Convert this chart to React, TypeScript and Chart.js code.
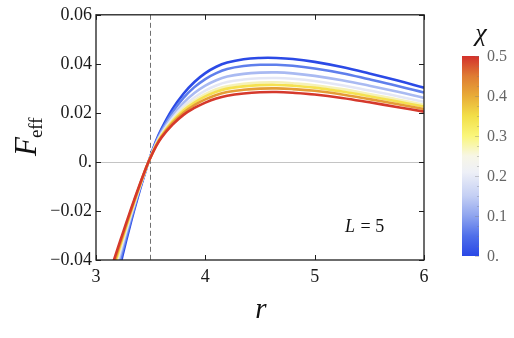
import React, { useEffect, useRef } from "react";
import { Chart, registerables } from "chart.js";
Chart.register(...registerables);

const SERIF = '"Liberation Serif", "Times New Roman", Times, serif';

// radial coordinate samples
const R = [3.1, 3.2, 3.25, 3.3, 3.35, 3.4, 3.45, 3.48, 3.55, 3.6, 3.7, 3.8, 3.9, 4.0, 4.1, 4.2, 4.35, 4.5, 4.65, 4.8, 5.0, 5.25, 5.5, 5.75, 6.0];

// F_eff for each chi value
const F_chi000 = [-0.0667, -0.0462, -0.0368, -0.0279, -0.0195, -0.0116, -0.0042, 0, 0.0086, 0.0136, 0.0216, 0.0278, 0.0326, 0.0362, 0.0388, 0.0405, 0.0419, 0.0424, 0.0424, 0.042, 0.0408, 0.0387, 0.0361, 0.0333, 0.0303];
const F_chi007 = [-0.0631, -0.044, -0.0351, -0.0267, -0.0187, -0.0111, -0.004, 0, 0.0082, 0.0129, 0.0203, 0.0261, 0.0305, 0.0338, 0.0362, 0.0379, 0.0391, 0.0396, 0.0396, 0.0392, 0.0381, 0.0362, 0.0337, 0.0311, 0.0283];
const F_chi014 = [-0.059, -0.0415, -0.0332, -0.0253, -0.0178, -0.0106, -0.0038, 0, 0.0077, 0.0121, 0.0189, 0.0241, 0.0281, 0.0311, 0.0333, 0.0348, 0.0359, 0.0364, 0.0365, 0.0361, 0.0351, 0.0333, 0.0311, 0.0287, 0.0261];
const F_chi021 = [-0.0561, -0.0397, -0.0318, -0.0243, -0.0171, -0.0102, -0.0037, 0, 0.0073, 0.0115, 0.0178, 0.0227, 0.0263, 0.0291, 0.0312, 0.0326, 0.0336, 0.0341, 0.0342, 0.0339, 0.033, 0.0313, 0.0291, 0.0269, 0.0245];
const F_chi029 = [-0.0538, -0.0383, -0.0308, -0.0235, -0.0166, -0.0099, -0.0036, 0, 0.007, 0.011, 0.017, 0.0217, 0.025, 0.0276, 0.0296, 0.0309, 0.0319, 0.0324, 0.0325, 0.0321, 0.0313, 0.0297, 0.0277, 0.0255, 0.0233];
const F_chi036 = [-0.0525, -0.0374, -0.0302, -0.0231, -0.0163, -0.0097, -0.0035, 0, 0.0069, 0.0108, 0.0165, 0.021, 0.0242, 0.0267, 0.0286, 0.0299, 0.0308, 0.0313, 0.0314, 0.0311, 0.0303, 0.0287, 0.0268, 0.0247, 0.0226];
const F_chi043 = [-0.0507, -0.0363, -0.0293, -0.0225, -0.0159, -0.0095, -0.0034, 0, 0.0066, 0.0104, 0.0159, 0.0201, 0.0232, 0.0255, 0.0273, 0.0285, 0.0294, 0.0299, 0.03, 0.0297, 0.029, 0.0275, 0.0256, 0.0236, 0.0216];
const F_chi050 = [-0.0487, -0.0351, -0.0284, -0.0218, -0.0154, -0.0092, -0.0033, 0, 0.0064, 0.01, 0.0152, 0.0192, 0.022, 0.0242, 0.0259, 0.027, 0.0279, 0.0284, 0.0285, 0.0282, 0.0275, 0.0261, 0.0243, 0.0224, 0.0205];

const SERIES = [F_chi000, F_chi007, F_chi014, F_chi021, F_chi029, F_chi036, F_chi043, F_chi050];
const CHI = [0, 0.071, 0.143, 0.214, 0.286, 0.357, 0.429, 0.5];
const COLORS = ["#2b4ae6", "#5f7fec", "#a9baf2", "#e4e7f5", "#f5f1b8", "#f5e150", "#e59c36", "#d5392c"];

const X_TICKS = [3, 4, 5, 6];
const Y_TICKS = [-0.04, -0.02, 0, 0.02, 0.04, 0.06];
const CB_TICKS = [0, 0.1, 0.2, 0.3, 0.4, 0.5];
const CB_LABELS = ["0.", "0.1", "0.2", "0.3", "0.4", "0.5"];
const R_DASH = 3.49;

function fmtY(v: number) {
  if (Math.abs(v) < 1e-9) return "0.";
  const s = Math.abs(v).toFixed(2);
  return v < 0 ? "\u2212" + s : s;
}

export default function App() {
  const ref = useRef<HTMLCanvasElement>(null);
  useEffect(() => {
    const canvas = ref.current!;
    const overlay = {
      id: "overlay",
      beforeDatasetsDraw(chart: any) {
        const { ctx, chartArea: a, scales } = chart;
        const x = scales.x, y = scales.y;
        ctx.save();
        const y0 = Math.round(y.getPixelForValue(0)) + 0.5;
        ctx.strokeStyle = "#c4c4c4";
        ctx.lineWidth = 1;
        ctx.beginPath();
        ctx.moveTo(a.left, y0);
        ctx.lineTo(a.right, y0);
        ctx.stroke();
        const xd = Math.round(x.getPixelForValue(R_DASH)) + 0.5;
        ctx.strokeStyle = "#707070";
        ctx.setLineDash([5, 3]);
        ctx.beginPath();
        ctx.moveTo(xd, a.top);
        ctx.lineTo(xd, a.bottom);
        ctx.stroke();
        ctx.restore();
      },
      afterDatasetsDraw(chart: any) {
        const { ctx, chartArea: a, scales } = chart;
        const x = scales.x, y = scales.y;
        ctx.save();
        ctx.strokeStyle = "#1e1e1e";
        ctx.lineWidth = 1.3;
        ctx.strokeRect(a.left, a.top, a.right - a.left, a.bottom - a.top);
        ctx.lineWidth = 1;
        const tl = 5;
        ctx.beginPath();
        X_TICKS.forEach((t) => {
          const px = Math.round(x.getPixelForValue(t)) + 0.5;
          ctx.moveTo(px, a.bottom);
          ctx.lineTo(px, a.bottom - tl);
          ctx.moveTo(px, a.top);
          ctx.lineTo(px, a.top + tl);
        });
        Y_TICKS.forEach((t) => {
          const py = Math.round(y.getPixelForValue(t)) + 0.5;
          ctx.moveTo(a.left, py);
          ctx.lineTo(a.left + tl, py);
          ctx.moveTo(a.right, py);
          ctx.lineTo(a.right - tl, py);
        });
        ctx.stroke();

        ctx.fillStyle = "#111";
        ctx.save();
        ctx.translate(36, 156);
        ctx.rotate(-Math.PI / 2);
        ctx.font = `italic 31px ${SERIF}`;
        ctx.textBaseline = "alphabetic";
        ctx.textAlign = "left";
        ctx.fillText("F", 0, 0);
        const fw = ctx.measureText("F").width;
        ctx.font = `19px ${SERIF}`;
        ctx.fillText("eff", fw - 1, 6);
        ctx.restore();

        ctx.font = `italic 29px ${SERIF}`;
        ctx.textAlign = "center";
        ctx.textBaseline = "alphabetic";
        ctx.fillText("r", 261, 318);

        ctx.textAlign = "left";
        ctx.font = `italic 18px ${SERIF}`;
        ctx.fillText("L", 345, 232);
        const lw = ctx.measureText("L").width;
        ctx.font = `18px ${SERIF}`;
        ctx.fillText(" = 5", 345 + lw + 1, 232);

        const cbL = 462, cbR = 479, cbT = 56, cbB = 256;
        const g = ctx.createLinearGradient(0, cbB, 0, cbT);
        g.addColorStop(0, "#2a48e6");
        g.addColorStop(0.1, "#4f6fea");
        g.addColorStop(0.2, "#8ea4ef");
        g.addColorStop(0.3, "#c4cff4");
        g.addColorStop(0.42, "#eef0f7");
        g.addColorStop(0.5, "#f7f6e6");
        g.addColorStop(0.6, "#faf67a");
        g.addColorStop(0.7, "#f2df48");
        g.addColorStop(0.8, "#e8ac38");
        g.addColorStop(0.9, "#df7c33");
        g.addColorStop(1, "#d3302b");
        ctx.fillStyle = g;
        ctx.fillRect(cbL, cbT, cbR - cbL, cbB - cbT);
        ctx.strokeStyle = "rgba(120,120,120,0.35)";
        ctx.lineWidth = 1;
        ctx.beginPath();
        for (let i = 0; i <= 20; i++) {
          const py = Math.round(cbB - (i / 20) * (cbB - cbT)) + 0.5;
          const len = i % 4 === 0 ? 4 : 2;
          ctx.moveTo(cbR - len, py);
          ctx.lineTo(cbR, py);
        }
        ctx.stroke();
        ctx.fillStyle = "#666";
        ctx.font = `16px ${SERIF}`;
        ctx.textAlign = "left";
        ctx.textBaseline = "middle";
        CB_TICKS.forEach((t, i) => {
          const py = cbB - (t / 0.5) * (cbB - cbT);
          ctx.fillText(CB_LABELS[i], 487, py + 1);
        });
        ctx.fillStyle = "#111";
        ctx.font = `italic 26px ${SERIF}`;
        ctx.textAlign = "center";
        ctx.textBaseline = "alphabetic";
        ctx.fillText("\u03c7", 481, 41);
        ctx.restore();
      },
    };

    const datasets = SERIES.map((vals, i) => ({
      label: "\u03c7 = " + CHI[i],
      data: R.map((r, k) => ({ x: r, y: vals[k] })),
      borderColor: COLORS[i],
      backgroundColor: COLORS[i],
      borderWidth: 2.6,
      pointRadius: 0,
      fill: false,
      tension: 0.4,
      clip: 0,
      order: SERIES.length - i,
    }));

    const chart = new Chart(canvas, {
      type: "line",
      data: { datasets },
      options: {
        animation: false,
        responsive: false,
        maintainAspectRatio: false,
        layout: { padding: { left: 0, right: 90, top: 14, bottom: 0 } },
        plugins: { legend: { display: false }, tooltip: { enabled: false } },
        scales: {
          x: {
            type: "linear",
            min: 3,
            max: 6,
            afterFit: (s: any) => { s.height = 78; },
            afterBuildTicks: (s: any) => { s.ticks = X_TICKS.map((v) => ({ value: v })); },
            grid: { display: false, drawTicks: false },
            border: { display: false },
            ticks: {
              padding: 6,
              color: "#1a1a1a",
              font: { family: SERIF, size: 18 },
              maxRotation: 0,
              callback: (v: any) => String(v),
            },
          },
          y: {
            type: "linear",
            min: -0.04,
            max: 0.06,
            afterFit: (s: any) => { s.width = 96; },
            afterBuildTicks: (s: any) => { s.ticks = Y_TICKS.map((v) => ({ value: v })); },
            grid: { display: false, drawTicks: false },
            border: { display: false },
            ticks: {
              padding: 4,
              color: "#1a1a1a",
              font: { family: SERIF, size: 18 },
              callback: (v: any) => fmtY(Number(v)),
            },
          },
        },
      },
      plugins: [overlay],
    });
    return () => chart.destroy();
  }, []);

  return (
    <div style={{ position: "fixed", left: 0, top: 0, width: 514, height: 338, background: "#fff" }}>
      <canvas ref={ref} width={514} height={338} style={{ width: 514, height: 338, display: "block" }} />
    </div>
  );
}
